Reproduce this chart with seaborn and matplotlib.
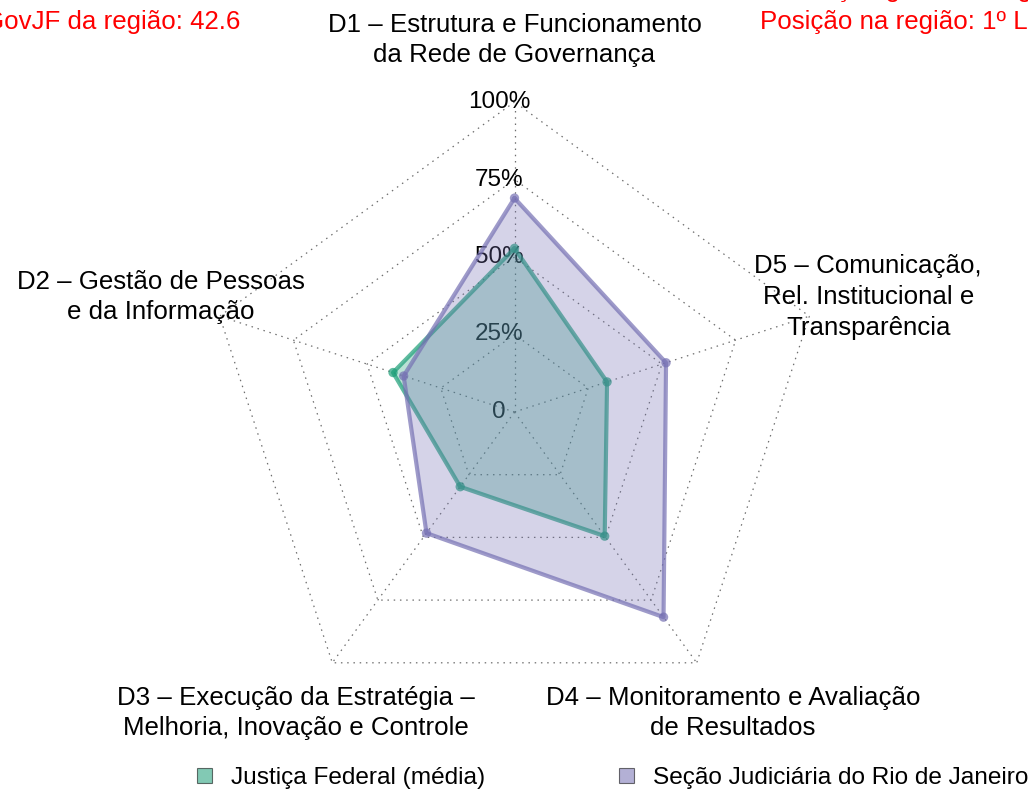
import numpy as np
import pandas as pd
import matplotlib
matplotlib.use("Agg")
import matplotlib.pyplot as plt
from matplotlib.patches import Patch
import seaborn as sns

# dimensions (axis labels), counter-clockwise from the top
dimensoes = [
    "D1 \u2013 Estrutura e Funcionamento\nda Rede de Governan\u00e7a",
    "D2 \u2013 Gest\u00e3o de Pessoas\ne da Informa\u00e7\u00e3o",
    "D3 \u2013 Execu\u00e7\u00e3o da Estrat\u00e9gia \u2013\nMelhoria, Inova\u00e7\u00e3o e Controle",
    "D4 \u2013 Monitoramento e Avalia\u00e7\u00e3o\nde Resultados",
    "D5 \u2013 Comunica\u00e7\u00e3o,\nRel. Institucional e\nTranspar\u00eancia",
]
series_names = ["Justi\u00e7a Federal (m\u00e9dia)", "Se\u00e7\u00e3o Judici\u00e1ria do Rio de Janeiro"]
justica_federal = [52.8, 41.2, 29.8, 49.5, 31.4]
sj_rio = [69.0, 37.6, 48.3, 81.8, 51.4]
ticks = [0, 25, 50, 75, 100]
tick_labels = ["0", "25%", "50%", "75%", "100%"]
header_left = ["IGovJF obtido: 58.8", "IGovJF da regi\u00e3o: 42.6"]
header_right = ["Posi\u00e7\u00e3o geral: 6\u00ba Lugar", "Posi\u00e7\u00e3o na regi\u00e3o: 1\u00ba Lugar"]

colors = ["#1B9E77", "#7570B3"]

sns.set_style("white")
plt.rcParams["font.family"] = ["Liberation Sans", "DejaVu Sans"]
plt.rcParams["text.color"] = "black"

n = len(dimensoes)
ang = np.deg2rad(90 + 72 * np.arange(n))
ux, uy = np.cos(ang), np.sin(ang)

fig = plt.figure(figsize=(10.28, 7.95), dpi=100)
ax = fig.add_axes([0, 0, 1, 1])
ax.set_xlim(-514.5 / 310, (1028 - 514.5) / 310)
ax.set_ylim(-(795 - 412) / 310, 412 / 310)
ax.axis("off")

grid_kw = dict(color="#6e6e6e", lw=0.9, linestyle=(0, (1.2, 3.8)), zorder=1)
# pentagon grid
for t in ticks[1:]:
    r = t / 100
    ax.plot(np.append(ux, ux[0]) * r, np.append(uy, uy[0]) * r, **grid_kw)
# radial axes
for i in range(n):
    ax.plot([0, ux[i]], [0, uy[i]], **grid_kw)

# percent labels
for t, lab in zip(ticks, tick_labels):
    ax.text(-0.05, t / 100, lab, ha="center", va="center", fontsize=17.5,
            color="black", zorder=2)

# series
rows = []
for name, vals in zip(series_names, [justica_federal, sj_rio]):
    for i, v in enumerate(vals):
        rows.append({"serie": name, "dim": i, "x": ux[i] * v / 100, "y": uy[i] * v / 100})
df = pd.DataFrame(rows)

for name, c in zip(series_names, colors):
    d = df[df["serie"] == name]
    xs, ys = d["x"].to_numpy(), d["y"].to_numpy()
    ax.fill(xs, ys, color=c, alpha=0.3, lw=0, zorder=3)
    ax.plot(np.append(xs, xs[0]), np.append(ys, ys[0]), color=c, alpha=0.7,
            lw=3, solid_joinstyle="round", zorder=3)
    sns.scatterplot(data=d, x="x", y="y", color=c, alpha=0.7, s=45,
                    edgecolor="none", ax=ax, zorder=3, legend=False)

# dimension labels
for i, lab in enumerate(dimensoes):
    ax.text(ux[i] * 1.2, uy[i] * 1.2, lab, ha="center", va="center",
            fontsize=18.6, linespacing=1.35, color="black", zorder=4)

# header texts (red, partly off the canvas as in the original)
for j, (l, r) in enumerate(zip(header_left, header_right)):
    yy = (412 + 10 - 32 * j) / 310
    ax.text(-405.5 / 310, yy, l, ha="center", va="center", fontsize=18.6, color="red")
    ax.text(405.5 / 310, yy, r, ha="center", va="center", fontsize=18.6, color="red")

handles = [Patch(facecolor=c, alpha=0.55, edgecolor="black", lw=0.8) for c in colors]
leg = fig.legend(handles, series_names, ncol=2, loc="center left",
                 bbox_to_anchor=(197 / 1028, 17 / 795), frameon=False,
                 fontsize=17.6, handlelength=0.6, handleheight=0.6,
                 handletextpad=0.78, columnspacing=5.5, borderpad=0, borderaxespad=0)
for h in leg.legend_handles:
    h.set_edgecolor("black")
for t in leg.get_texts():
    t.set_color("black")

fig.savefig("out.png", dpi=100)
plt.close(fig)
